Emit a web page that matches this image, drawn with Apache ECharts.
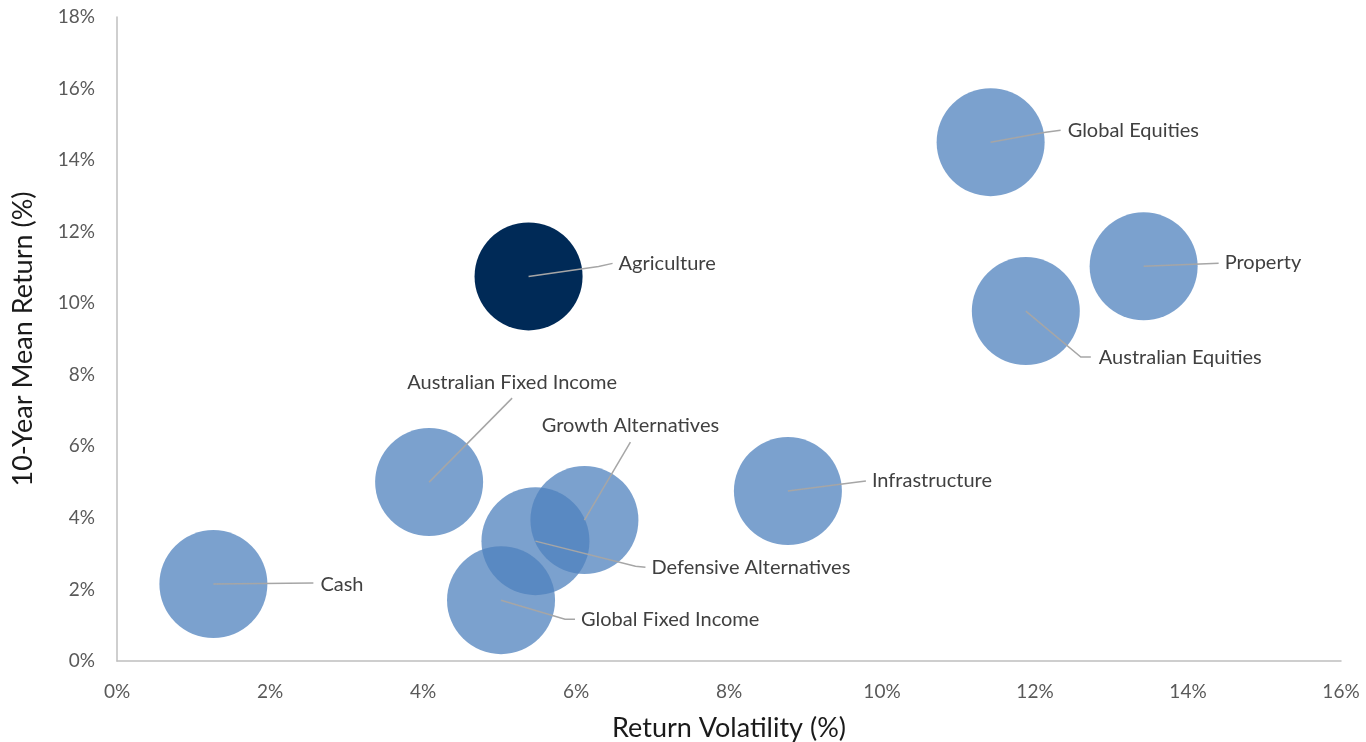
<!DOCTYPE html>
<html><head><meta charset="utf-8">
<script src="https://cdn.jsdelivr.net/npm/echarts@6/dist/echarts.min.js"></script>
<style>html,body{margin:0;padding:0;background:#fff}#c{width:1366px;height:742px}</style>
</head><body><div id="c"></div>
<script>
// Data
const names = ['Global Equities','Property','Australian Equities','Agriculture','Australian Fixed Income','Growth Alternatives','Defensive Alternatives','Global Fixed Income','Cash','Infrastructure'];
const volatility = [11.42, 13.42, 11.88, 5.38, 4.08, 6.11, 5.47, 5.02, 1.26, 8.77];
const meanReturn = [14.5, 11.03, 9.78, 10.75, 5.0, 3.94, 3.35, 1.70, 2.15, 4.75];
const xTicks = ['0%','2%','4%','6%','8%','10%','12%','14%','16%'];
const yTicks = ['0%','2%','4%','6%','8%','10%','12%','14%','16%','18%'];

// Label layout (pixel offsets from bubble centre): elbow point, end point, text anchor
const labelLayout = {
  'Global Equities':        {pts:[[55,-10],[70,-12]], tx:77, ty:-12, align:'left'},
  'Property':               {pts:[[75,-3]], tx:81, ty:-4, align:'left'},
  'Australian Equities':    {pts:[[55,46],[65,46]], tx:73, ty:46, align:'left'},
  'Agriculture':            {pts:[[70,-10],[84,-13]], tx:90, ty:-13, align:'left'},
  'Australian Fixed Income':{pts:[[83,-84]], tx:83, ty:-100, align:'center'},
  'Growth Alternatives':    {pts:[[46,-78]], tx:46, ty:-94, align:'center'},
  'Defensive Alternatives': {pts:[[100,25],[110,26]], tx:116, ty:26, align:'left'},
  'Global Fixed Income':    {pts:[[64,19],[74,19]], tx:80, ty:19, align:'left'},
  'Cash':                   {pts:[[100,-1]], tx:107, ty:0, align:'left'},
  'Infrastructure':         {pts:[[70,-9],[78,-10]], tx:84, ty:-11, align:'left'}
};

const bubbleData = names.map((n,i)=>({
  name:n, value:[volatility[i], meanReturn[i]],
  itemStyle: n==='Agriculture' ? {color:'#002a57', opacity:1} : undefined
}));

const chart = echarts.init(document.getElementById('c'));
chart.setOption({
  animation:false,
  grid:{left:117, right:25, top:17, bottom:81, containLabel:false, outerBoundsMode:'none'},
  xAxis:{
    type:'value', min:0, max:16, interval:2,
    name:'Return Volatility (%)', nameLocation:'middle', nameGap:54,
    nameTextStyle:{fontFamily:'Lato', fontSize:27, color:'#1a1a1a'},
    axisLine:{show:true, lineStyle:{color:'#bfbfbf', width:1.5}},
    axisTick:{show:false}, splitLine:{show:false},
    axisLabel:{fontFamily:'Lato', fontSize:19, color:'#595959', margin:21,
      formatter:(v)=>xTicks[Math.round(v/2)]}
  },
  yAxis:{
    type:'value', min:0, max:18, interval:2,
    name:'10-Year Mean Return (%)', nameLocation:'middle', nameGap:80,
    nameTextStyle:{fontFamily:'Lato', fontSize:27, color:'#1a1a1a'},
    axisLine:{show:true, lineStyle:{color:'#bfbfbf', width:1.5}},
    axisTick:{show:false}, splitLine:{show:false},
    axisLabel:{fontFamily:'Lato', fontSize:19, color:'#595959', margin:22,
      formatter:(v)=>yTicks[Math.round(v/2)]}
  },
  series:[
    {
      type:'scatter', symbol:'circle', symbolSize:108,
      itemStyle:{color:'#4f81bd', opacity:0.75},
      emphasis:{disabled:true},
      data:bubbleData
    },
    {
      type:'custom', z:10, silent:true,
      data:names.map((n,i)=>[volatility[i], meanReturn[i], i]),
      renderItem:(params, api)=>{
        const c = api.coord([api.value(0), api.value(1)]);
        const nm = names[api.value(2)];
        const L = labelLayout[nm];
        const pts = [c].concat(L.pts.map(p=>[c[0]+p[0], c[1]+p[1]]));
        return {type:'group', children:[
          {type:'polyline', shape:{points:pts}, style:{stroke:'#a6a6a6', lineWidth:1.5, fill:null}},
          {type:'text', x:c[0]+L.tx, y:c[1]+L.ty, style:{text:nm, fontFamily:'Lato', fontSize:20, fill:'#404040', align:L.align, verticalAlign:'middle'}}
        ]};
      }
    }
  ]
});
</script></body></html>
